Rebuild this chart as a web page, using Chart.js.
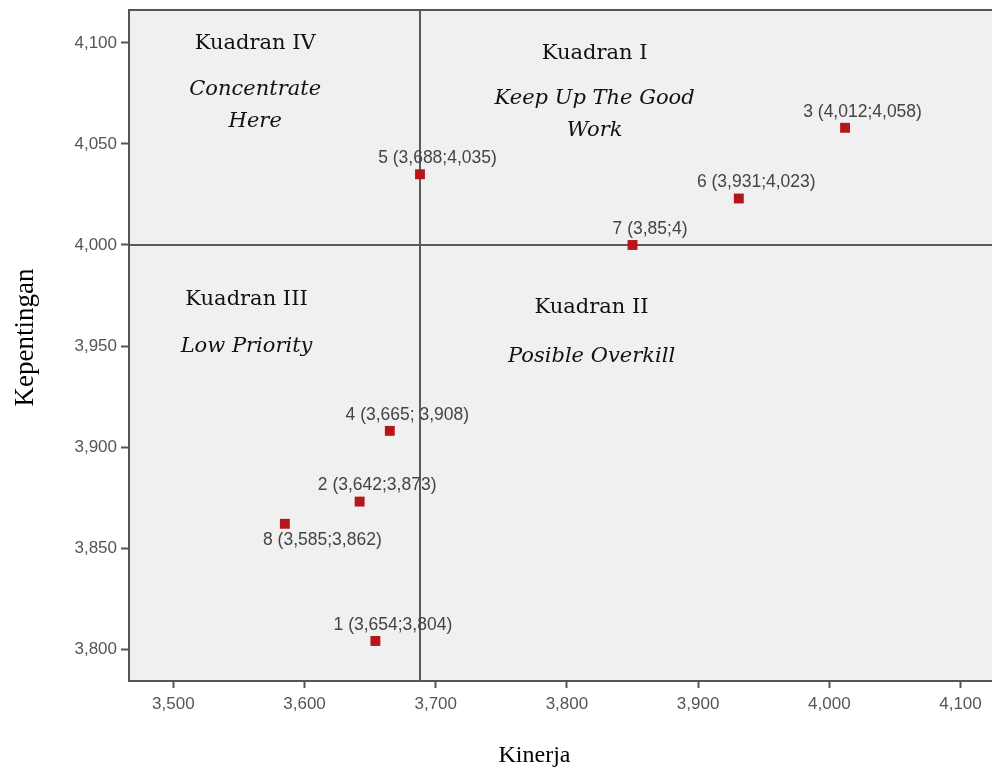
<!DOCTYPE html>
<html lang="id">
<head>
    <meta charset="UTF-8">
    <title>Diagram Kartesius Kinerja - Kepentingan</title>
    <script src="https://cdn.jsdelivr.net/npm/chart.js"></script>
    <style>
        html, body { margin: 0; padding: 0; background: #fff; overflow: hidden; }
        canvas { display: block; }
    </style>
</head>
<body>
    <canvas id="ipaChart" width="992" height="769"></canvas>

    <script>
        // data
        const kinerja = [3.654, 3.642, 4.012, 3.665, 3.688, 3.931, 3.85, 3.585];
        const kepentingan = [3.804, 3.873, 4.058, 3.908, 4.035, 4.023, 4.000, 3.862];
        const pointLabels = ['1 (3,654;3,804)', '2 (3,642;3,873)', '3 (4,012;4,058)', '4 (3,665; 3,908)',
                             '5 (3,688;4,035)', '6 (3,931;4,023)', '7 (3,85;4)', '8 (3,585;3,862)'];
        const xTicks = [3.5, 3.6, 3.7, 3.8, 3.9, 4.0, 4.1];
        const yTicks = [3.8, 3.85, 3.9, 3.95, 4.0, 4.05, 4.1];
        const batasKinerja = 3.688;
        const batasKepentingan = 4.0;

        // quadrant captions, anchored in data units
        const quadrantTitles = [
            { text: 'Kuadran IV', x: 3.5624, y: 4.0970 },
            { text: 'Kuadran I', x: 3.8211, y: 4.0921 },
            { text: 'Kuadran III', x: 3.5558, y: 3.9703 },
            { text: 'Kuadran II', x: 3.8188, y: 3.9663 }
        ];
        const quadrantHints = [
            { text: 'Concentrate', x: 3.5624, y: 4.0743 },
            { text: 'Here', x: 3.5624, y: 4.0584 },
            { text: 'Keep Up The Good', x: 3.8211, y: 4.0698 },
            { text: 'Work', x: 3.8211, y: 4.0540 },
            { text: 'Low Priority', x: 3.5558, y: 3.9470 },
            { text: 'Posible Overkill', x: 3.8188, y: 3.9421 }
        ];

        const xMin = 3.4662, xMax = 4.1240;
        const yMin = 3.7842, yMax = 4.1163;

        const fmt = v => Number(v).toFixed(3).replace('.', ',');
        const noPad = s => { s.paddingLeft = 0; s.paddingRight = 0; s.paddingTop = 0; s.paddingBottom = 0; };

        const quadrantPlugin = {
            id: 'quadrant',
            beforeDraw(chart) {
                const { ctx, chartArea: a } = chart;
                ctx.save();
                ctx.fillStyle = '#f0f0f0';
                ctx.fillRect(a.left, a.top, a.right - a.left, a.bottom - a.top);
                ctx.restore();
            },
            afterDatasetsDraw(chart) {
                const { ctx, chartArea: a, scales } = chart;
                const xs = scales.x, ys = scales.y;
                ctx.save();

                // top frame line
                ctx.strokeStyle = '#555';
                ctx.lineWidth = 2;
                ctx.beginPath();
                ctx.moveTo(a.left, a.top);
                ctx.lineTo(a.right, a.top);
                ctx.stroke();

                ctx.textAlign = 'center';
                ctx.textBaseline = 'alphabetic';
                ctx.fillStyle = '#111';
                ctx.font = '21px "DejaVu Serif"';
                quadrantTitles.forEach(q => {
                    ctx.fillText(q.text, xs.getPixelForValue(q.x), ys.getPixelForValue(q.y));
                });
                ctx.font = 'italic 21px "DejaVu Serif"';
                quadrantHints.forEach(q => {
                    ctx.fillText(q.text, xs.getPixelForValue(q.x), ys.getPixelForValue(q.y));
                });

                // point labels
                ctx.font = '17.5px "Liberation Sans", Arial, sans-serif';
                ctx.fillStyle = '#444';
                ctx.textBaseline = 'middle';
                const meta = chart.getDatasetMeta(0);
                meta.data.forEach((pt, i) => {
                    let dx = 17.5, dy = -16;
                    if (i === 7) { dx = 37.5; dy = 16.5; }
                    ctx.fillText(pointLabels[i], pt.x + dx, pt.y + dy);
                });

                // axis titles
                ctx.fillStyle = '#000';
                ctx.textBaseline = 'alphabetic';
                ctx.font = '24px "Liberation Serif", "Times New Roman", serif';
                ctx.fillText('Kinerja', 534.5, 762);
                ctx.translate(33, 337.5);
                ctx.rotate(-Math.PI / 2);
                ctx.font = '27px "Liberation Serif", "Times New Roman", serif';
                ctx.fillText('Kepentingan', 0, 0);
                ctx.restore();
            }
        };

        const ctx = document.getElementById('ipaChart').getContext('2d');
        new Chart(ctx, {
            type: 'scatter',
            data: {
                datasets: [
                    {
                        data: kinerja.map((x, i) => ({ x: x, y: kepentingan[i] })),
                        pointStyle: 'rect',
                        pointRadius: 7,
                        pointBackgroundColor: '#b5161c',
                        pointBorderWidth: 0,
                        order: 0
                    },
                    {
                        type: 'line',
                        data: [{ x: batasKinerja, y: yMin }, { x: batasKinerja, y: yMax }],
                        borderColor: '#5a5a5a',
                        borderWidth: 2,
                        pointRadius: 0,
                        order: 1
                    },
                    {
                        type: 'line',
                        data: [{ x: xMin, y: batasKepentingan }, { x: xMax, y: batasKepentingan }],
                        borderColor: '#5a5a5a',
                        borderWidth: 2,
                        pointRadius: 0,
                        order: 1
                    }
                ]
            },
            options: {
                responsive: false,
                animation: false,
                layout: { autoPadding: false, padding: { top: 10, left: 0, right: 0, bottom: 0 } },
                plugins: {
                    legend: { display: false },
                    tooltip: { enabled: false }
                },
                scales: {
                    x: {
                        type: 'linear',
                        min: xMin,
                        max: xMax,
                        afterBuildTicks: s => { s.ticks = xTicks.map(v => ({ value: v })); },
                        afterFit: s => { s.height = 88; noPad(s); },
                        border: { display: true, color: '#555', width: 2 },
                        grid: { drawOnChartArea: false, drawTicks: true, tickLength: 7, tickColor: '#555', tickWidth: 2 },
                        ticks: {
                            padding: 6,
                            color: '#555',
                            maxRotation: 0,
                            autoSkip: false,
                            font: { family: '"Liberation Sans", Arial, sans-serif', size: 17 },
                            callback: v => fmt(v)
                        }
                    },
                    y: {
                        type: 'linear',
                        min: yMin,
                        max: yMax,
                        afterBuildTicks: s => { s.ticks = yTicks.map(v => ({ value: v })); },
                        afterFit: s => { s.width = 129; noPad(s); },
                        border: { display: true, color: '#555', width: 2 },
                        grid: { drawOnChartArea: false, drawTicks: true, tickLength: 8, tickColor: '#555', tickWidth: 2 },
                        ticks: {
                            padding: 4,
                            color: '#555',
                            autoSkip: false,
                            font: { family: '"Liberation Sans", Arial, sans-serif', size: 17 },
                            callback: v => fmt(v)
                        }
                    }
                }
            },
            plugins: [quadrantPlugin]
        });
    </script>
</body>
</html>
